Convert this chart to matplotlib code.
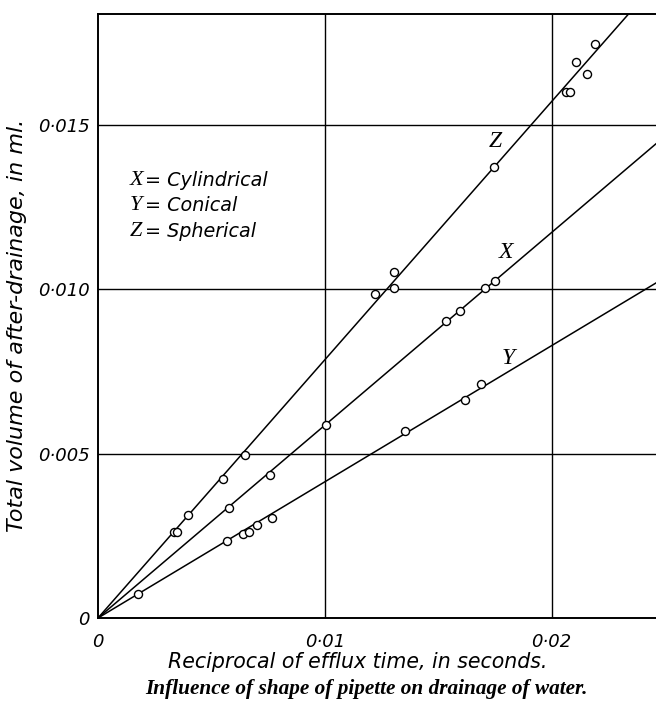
import matplotlib.pyplot as plt
import numpy as np

# data (x = reciprocal efflux time, y = after-drainage ml)
z_x = [0.00335, 0.00348, 0.00398, 0.0055, 0.00647, 0.01222, 0.01304, 0.01304,
       0.01747, 0.02065, 0.02082, 0.02156, 0.02106, 0.02192]
z_y = [0.00262, 0.00262, 0.00313, 0.00423, 0.00496, 0.00985, 0.01002, 0.01053,
       0.0137, 0.0160, 0.0160, 0.01654, 0.0169, 0.01745]

x_x = [0.00579, 0.00758, 0.01004, 0.01536, 0.01598, 0.01708, 0.01752]
x_y = [0.00333, 0.00435, 0.00587, 0.00903, 0.00934, 0.01004, 0.01025]

y_x = [0.00178, 0.0057, 0.0064, 0.00667, 0.00699, 0.00765, 0.01355, 0.01617, 0.0169]
y_y = [0.00072, 0.00234, 0.00254, 0.0026, 0.00283, 0.00305, 0.00568, 0.00663, 0.00711]

# fitted line slopes (through origin)
slopes = {'Z': 0.785, 'X': 0.586, 'Y': 0.414}

x_ticks = [0, 0.01, 0.02]
x_tick_labels = ['0', '0·01', '0·02']
y_ticks = [0, 0.005, 0.010, 0.015]
y_tick_labels = ['0', '0·005', '0·010', '0·015']

XMAX = 0.0246
YMAX = 0.01836

fig = plt.figure(figsize=(6.56, 7.01), dpi=100)
ax = fig.add_axes([0.1494, 0.1184, 0.8506, 0.8616])

ax.set_xlim(0, XMAX)
ax.set_ylim(0, YMAX)

# grid
for gx in x_ticks[1:]:
    ax.axvline(gx, color='black', lw=1.0, zorder=1)
for gy in y_ticks[1:]:
    ax.axhline(gy, color='black', lw=1.0, zorder=1)

# lines through origin
xx = np.array([0, XMAX])
for name, s in slopes.items():
    ax.plot(xx, s * xx, color='black', lw=1.1, zorder=2)

for px, py in [(z_x, z_y), (x_x, x_y), (y_x, y_y)]:
    ax.plot(px, py, 'o', mfc='white', mec='black', ms=5.8, mew=1.0, zorder=3)

# curve labels
serif = dict(family='Liberation Serif', style='italic', fontsize=17)
ax.text(0.0175, 0.0145, 'Z', ha='center', va='center', **serif)
ax.text(0.0180, 0.0111, 'X', ha='center', va='center', **serif)
ax.text(0.0181, 0.0079, 'Y', ha='center', va='center', **serif)

# key
key = ['X', 'Y', 'Z']
key_names = ['Cylindrical', 'Conical', 'Spherical']
for i, (k, n) in enumerate(zip(key, key_names)):
    yy = 0.01330 - i * 0.00077
    ax.text(0.00140, yy, k, ha='left', va='center', family='Liberation Serif',
            style='italic', fontsize=16)
    ax.text(0.00205, yy, '= ' + n, ha='left', va='center',
            family='DejaVu Sans', style='italic', fontsize=13.8)

ax.spines['right'].set_visible(False)
for sp in ['left', 'top', 'bottom']:
    ax.spines[sp].set_linewidth(1.4)

ax.set_xticks(x_ticks)
ax.set_xticklabels(x_tick_labels, style='italic', fontsize=13)
ax.set_yticks(y_ticks)
ax.set_yticklabels(y_tick_labels, style='italic', fontsize=13)
ax.tick_params(axis='x', length=0, pad=11)
ax.tick_params(axis='y', length=0, pad=6)

ax.set_xlabel('Reciprocal of efflux time, in seconds.', style='italic',
              fontsize=14.8)
ax.xaxis.set_label_coords(0.466, -0.056)
ax.set_ylabel('Total volume of after-drainage, in ml.', style='italic',
              fontsize=16)
ax.yaxis.set_label_coords(-0.128, 0.485)

fig.text(0.558, 0.003, 'Influence of shape of pipette on drainage of water.',
         ha='center', va='bottom', family='Liberation Serif', style='italic',
         weight='bold', fontsize=15.3)

fig.savefig('out.png', dpi=100)
